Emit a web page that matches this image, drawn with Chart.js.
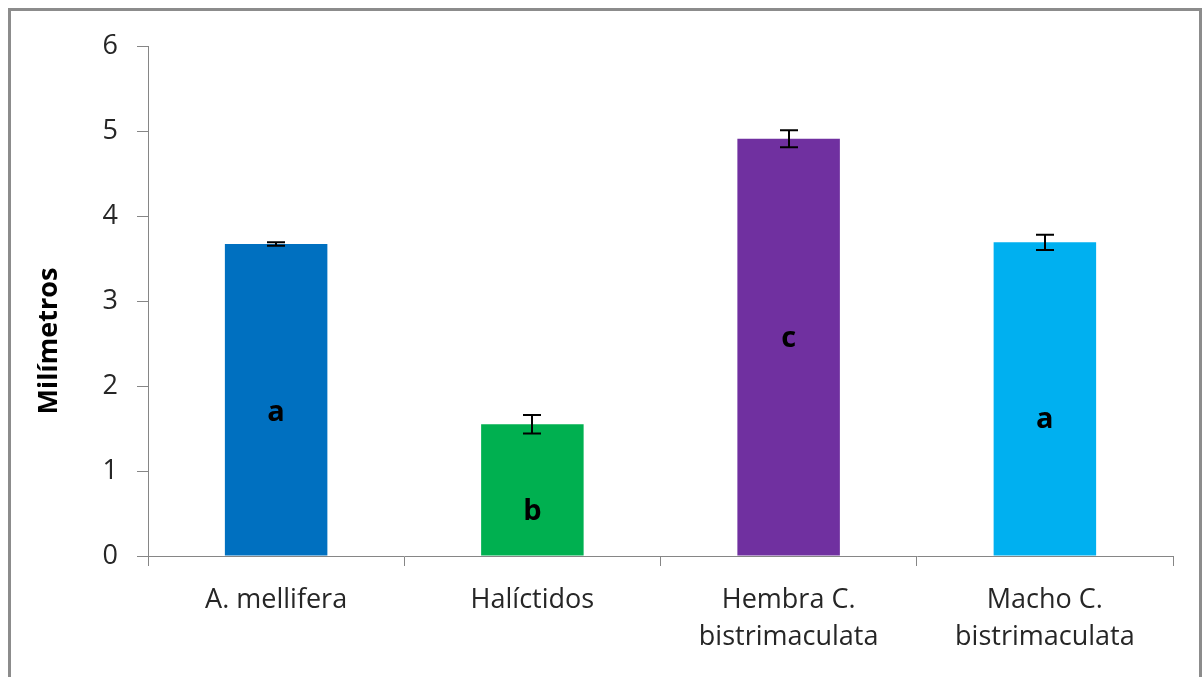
<!DOCTYPE html>
<html lang="es">
<head>
    <meta charset="UTF-8">
    <title>Milímetros</title>
    <script src="https://cdn.jsdelivr.net/npm/chart.js"></script>
    <style>
        html, body { margin: 0; padding: 0; background: #fff; }
        #wrap { width: 1203px; height: 677px; position: relative; }
    </style>
</head>
<body>
<div id="wrap"><canvas id="grafico"></canvas></div>
<script>
    // datos
    const especies = [['A. mellifera'], ['Halíctidos'], ['Hembra C.', 'bistrimaculata'], ['Macho C.', 'bistrimaculata']];
    const medias = [3.67, 1.55, 4.91, 3.69];
    const errores = [0.02, 0.11, 0.10, 0.09];
    const letras = ['a', 'b', 'c', 'a'];
    const alturaLetras = [1.68, 0.52, 2.56, 1.60];
    const colores = ['#0070C0', '#00B050', '#7030A0', '#00B0F0'];
    const ejeY = 'Milímetros';

    const fuente = '"Open Sans", sans-serif';
    const gris = '#868686';
    const texto = '#262626';

    // marco, barras de error, letras y título del eje
    const extras = {
        id: 'extras',
        beforeDraw(chart) {
            const ctx = chart.ctx;
            ctx.save();
            ctx.fillStyle = '#fff';
            ctx.fillRect(0, 0, chart.width, chart.height);
            ctx.strokeStyle = '#8c8c8c';
            ctx.lineWidth = 3;
            ctx.strokeRect(9.5, 9.5, chart.width - 12, chart.height + 20);
            ctx.restore();
        },
        afterDatasetsDraw(chart) {
            const ctx = chart.ctx;
            const x = chart.scales.x, y = chart.scales.y;
            ctx.save();
            ctx.strokeStyle = '#000';
            ctx.lineWidth = 2;
            medias.forEach((m, i) => {
                const cx = Math.round(x.getPixelForValue(i));
                const y1 = y.getPixelForValue(m + errores[i]);
                const y2 = y.getPixelForValue(m - errores[i]);
                ctx.beginPath();
                ctx.moveTo(cx, y1); ctx.lineTo(cx, y2);
                ctx.moveTo(cx - 9, y1); ctx.lineTo(cx + 9, y1);
                ctx.moveTo(cx - 9, y2); ctx.lineTo(cx + 9, y2);
                ctx.stroke();
            });
            ctx.fillStyle = '#000';
            ctx.font = 'bold 29px ' + fuente;
            ctx.textAlign = 'center';
            ctx.textBaseline = 'middle';
            letras.forEach((l, i) => {
                ctx.fillText(l, x.getPixelForValue(i), y.getPixelForValue(alturaLetras[i]));
            });
            ctx.translate(49, 341);
            ctx.rotate(-Math.PI / 2);
            ctx.font = 'bold 27px ' + fuente;
            ctx.fillText(ejeY, 0, 0);
            ctx.restore();
        }
    };

    new Chart(document.getElementById('grafico'), {
        type: 'bar',
        data: {
            labels: especies,
            datasets: [{
                data: medias,
                backgroundColor: colores,
                borderWidth: 0,
                barPercentage: 0.4,
                categoryPercentage: 1
            }]
        },
        options: {
            responsive: true,
            maintainAspectRatio: false,
            animation: false,
            layout: { padding: { top: 46, right: 30, left: 0, bottom: 0 } },
            plugins: { legend: { display: false }, tooltip: { enabled: false } },
            scales: {
                y: {
                    min: 0,
                    max: 6,
                    ticks: { stepSize: 1, color: texto, font: { family: fuente, size: 27 }, padding: 19 },
                    grid: { drawOnChartArea: false, drawTicks: true, tickLength: 11, color: gris },
                    border: { color: gris, width: 1 },
                    afterFit(s) { s.width = 148; }
                },
                x: {
                    ticks: { color: texto, font: { family: fuente, size: 27, lineHeight: 1.37 }, padding: 16, maxRotation: 0 },
                    grid: { offset: true, drawOnChartArea: false, drawTicks: true, tickLength: 10, color: gris },
                    border: { color: gris, width: 1 },
                    afterFit(s) { s.height = 121; }
                }
            }
        },
        plugins: [extras]
    });
</script>
</body>
</html>
